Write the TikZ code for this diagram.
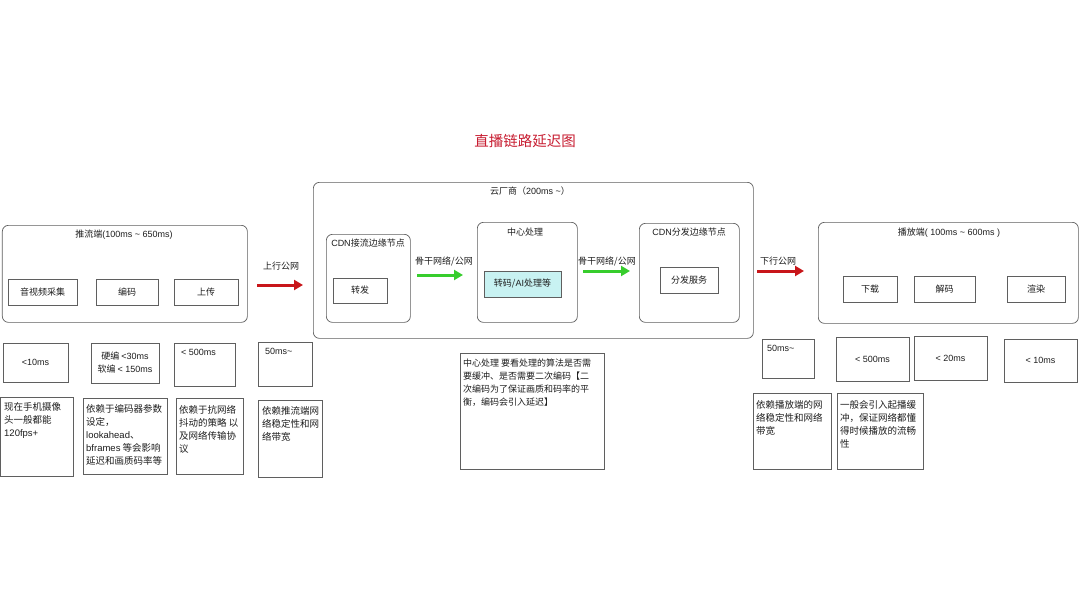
\documentclass[tikz,border=0pt]{standalone}
\usepackage{fontspec}
\setmainfont{Noto Sans CJK SC}
\newfontfamily\lat{Liberation Sans}
\usetikzlibrary{arrows.meta,calc}
\definecolor{edge}{RGB}{95,95,95}
\definecolor{ink}{RGB}{30,30,30}
\definecolor{titlered}{RGB}{200,30,50}
\definecolor{arrred}{RGB}{200,22,26}
\definecolor{arrgreen}{RGB}{55,205,45}
\definecolor{cyanfill}{RGB}{200,242,242}
\newcommand\mybox[6]{\node[#6,anchor=north west,minimum width=#4pt,minimum height=#5pt,inner sep=0pt] (#1) at (#2,#3) {};}
\begin{document}
\begin{tikzpicture}[x=1pt,y=-1pt,
  every node/.style={text=ink},
  container/.style={draw=edge,line width=0.7pt,rounded corners=6pt},
  plainbox/.style={draw=edge,line width=0.7pt},
  lbl/.style={font=\fontsize{9}{11}\selectfont,inner sep=0pt},
  desc/.style={font=\fontsize{9.5}{13}\selectfont,inner sep=0pt,align=left,anchor=north west},
  cbox/.style={draw=edge,line width=0.7pt,inner sep=0pt,font=\fontsize{9}{13}\selectfont,align=center},
  redarrow/.style={draw=arrred,line width=3pt,-{Triangle[length=9pt,width=10pt]}},
  greenarrow/.style={draw=arrgreen,line width=3pt,-{Triangle[length=9pt,width=10pt]}}]
\useasboundingbox[fill=white] (0,0) rectangle (1080,608);

% title
\node[font=\fontsize{14.5}{16}\selectfont,text=titlered,inner sep=0pt] (title) at (525,141) {直播链路延迟图};

% ---------------- push side ----------------
\mybox{push}{2}{225}{245}{97}{container}
\node[lbl] (pushl) at (124,235) {推流端{\lat(100ms \textasciitilde{} 650ms)}};
\node[cbox,minimum width=69pt,minimum height=26pt] (cap) at (42.5,292) {音视频采集};
\node[cbox,minimum width=62pt,minimum height=26pt] (enc) at (127,292) {编码};
\node[cbox,minimum width=64pt,minimum height=26pt] (upl) at (206,292) {上传};

\node[cbox,minimum width=65pt,minimum height=39pt] (t1) at (35.5,362.5) {\lat <10ms};
\node[cbox,minimum width=68pt,minimum height=40pt] (t2) at (125,363) {硬编 {\lat <30ms}\\软编 {\lat < 150ms}};
\mybox{t3}{174}{343}{61}{43}{plainbox}
\node[desc,font=\fontsize{9}{13}\selectfont\lat] (t3t) at (181,349) {< 500ms};
\mybox{t4}{258}{342}{54}{44}{plainbox}
\node[desc,font=\fontsize{9}{13}\selectfont\lat] (t4t) at (265,348) {50ms\textasciitilde};

\mybox{d1}{0}{397}{73}{79}{plainbox}
\node[desc] (d1t) at (4,402) {现在手机摄像\\头一般都能\\{\lat 120fps+}};
\mybox{d2}{83}{398}{84}{76}{plainbox}
\node[desc] (d2t) at (86,404) {依赖于编码器参数\\设定，\\{\lat lookahead}、\\{\lat bframes} 等会影响\\延迟和画质码率等};
\mybox{d3}{176}{398}{67}{76}{plainbox}
\node[desc] (d3t) at (179,405) {依赖于抗网络\\抖动的策略 以\\及网络传输协\\议};
\mybox{d4}{258}{400}{64}{77}{plainbox}
\node[desc] (d4t) at (262,406) {依赖推流端网\\络稳定性和网\\络带宽};

% uplink arrow
\coordinate (u1) at (257,285);
\coordinate (u2) at (303,285);
\draw[redarrow] (u1) -- (u2);
\node[lbl] (u1l) at (281,266) {上行公网};

% ---------------- cloud ----------------
\mybox{cloud}{313}{182}{440}{156}{container}
\node[lbl] (cloudl) at (530,191) {云厂商（{\lat 200ms \textasciitilde}）};

\mybox{cdnin}{326}{234}{84}{88}{container}
\node[lbl] (cdninl) at (368,243) {{\lat CDN}接流边缘节点};
\node[cbox,minimum width=54pt,minimum height=25pt] (fwd) at (360,290.5) {转发};

\coordinate (g1a) at (417,275);
\coordinate (g1b) at (463,275);
\draw[greenarrow] (g1a) -- (g1b);
\node[lbl] (g1l) at (444,261) {骨干网络/公网};

\mybox{center}{477}{222}{100}{100}{container}
\node[lbl] (centerl) at (525,232) {中心处理};
\node[cbox,fill=cyanfill,minimum width=77pt,minimum height=26pt] (trans) at (522.5,284) {转码/{\lat AI}处理等};

\coordinate (g2a) at (583,271);
\coordinate (g2b) at (630,271);
\draw[greenarrow] (g2a) -- (g2b);
\node[lbl] (g2l) at (607,261) {骨干网络/公网};

\mybox{cdnout}{639}{223}{100}{99}{container}
\node[lbl] (cdnoutl) at (689,232) {{\lat CDN}分发边缘节点};
\node[cbox,minimum width=58pt,minimum height=26pt] (dist) at (689,280) {分发服务};

\mybox{cdesc}{460}{353}{144}{116}{plainbox}
\node[desc,font=\fontsize{9}{12.8}\selectfont] (cdesct) at (463,359) {中心处理 要看处理的算法是否需\\要缓冲、是否需要二次编码【二\\次编码为了保证画质和码率的平\\衡，编码会引入延迟】};

% downlink arrow
\coordinate (d1a) at (757,271);
\coordinate (d1b) at (804,271);
\draw[redarrow] (d1a) -- (d1b);
\node[lbl] (dl) at (778,261) {下行公网};

% ---------------- play side ----------------
\mybox{play}{818}{222}{260}{101}{container}
\node[lbl] (playl) at (949,233) {播放端{\lat( 100ms \textasciitilde{} 600ms )}};
\node[cbox,minimum width=54pt,minimum height=26pt] (dl2) at (870,289.5) {下载};
\node[cbox,minimum width=61pt,minimum height=26pt] (dec) at (944.5,289.5) {解码};
\node[cbox,minimum width=58pt,minimum height=26pt] (rnd) at (1036,289.5) {渲染};

\mybox{p1}{762}{339}{52}{39}{plainbox}
\node[desc,font=\fontsize{9}{13}\selectfont\lat] (p1t) at (767,345) {50ms\textasciitilde};
\node[cbox,minimum width=73pt,minimum height=44pt,font=\fontsize{9}{13}\selectfont\lat] (p2) at (872.5,359) {< 500ms};
\node[cbox,minimum width=73pt,minimum height=44pt,font=\fontsize{9}{13}\selectfont\lat] (p3) at (950.5,358.5) {< 20ms};
\node[cbox,minimum width=73pt,minimum height=43pt,font=\fontsize{9}{13}\selectfont\lat] (p4) at (1040.5,360.5) {< 10ms};

\mybox{q1}{753}{393}{78}{76}{plainbox}
\node[desc] (q1t) at (756,400) {依赖播放端的网\\络稳定性和网络\\带宽};
\mybox{q2}{837}{393}{86}{76}{plainbox}
\node[desc] (q2t) at (840,400) {一般会引入起播缓\\冲，保证网络都懂\\得时候播放的流畅\\性};
\end{tikzpicture}
\end{document}
